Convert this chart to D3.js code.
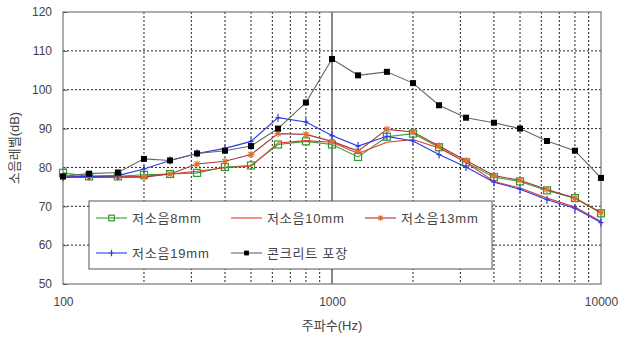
<!DOCTYPE html>
<html>
<head>
<meta charset="utf-8">
<script src="https://cdn.jsdelivr.net/npm/d3@7"></script>
<style>
  body { margin: 0; background: #fff; }
  svg { display: block; font-family: "Liberation Sans", "Noto Sans CJK KR", sans-serif; }
</style>
</head>
<body>
<svg id="chart" width="620" height="341"></svg>
<script>
// 1/3 octave band centre frequencies (Hz)
const freqs = [100, 125, 160, 200, 250, 315, 400, 500, 630, 800, 1000, 1250, 1600, 2000, 2500, 3150, 4000, 5000, 6300, 8000, 10000];

// Noise level (dB) per pavement type
const low8  = [78.6, 77.7, 77.7, 78.1, 78.3, 78.6, 80.1, 80.5, 85.9, 86.7, 85.9, 82.7, 87.9, 88.7, 85.2, 81.3, 77.5, 76.4, 74.1, 72.1, 68.2];
const low10 = [77.5, 77.5, 77.5, 77.7, 78.3, 79.0, 79.9, 80.3, 86.3, 86.9, 86.5, 83.6, 86.5, 87.2, 85.0, 81.3, 76.4, 74.7, 72.1, 69.8, 66.1];
const low13 = [77.5, 77.5, 77.5, 77.5, 78.3, 80.9, 81.6, 83.3, 88.7, 88.5, 86.7, 84.2, 89.8, 89.1, 85.5, 81.8, 77.9, 76.7, 74.3, 72.1, 68.4];
const low19 = [77.5, 77.7, 77.9, 79.6, 81.8, 83.6, 84.9, 86.7, 92.8, 91.7, 88.2, 85.5, 88.0, 86.8, 83.3, 80.1, 76.2, 74.4, 71.7, 69.5, 65.8];
const concrete = [77.7, 78.4, 78.7, 82.2, 81.8, 83.6, 84.3, 85.5, 90.0, 96.7, 107.9, 103.7, 104.6, 101.7, 96.0, 92.8, 91.5, 90.0, 86.8, 84.3, 77.3];

const seriesNames = ["저소음8mm", "저소음10mm", "저소음13mm", "저소음19mm", "콘크리트 포장"];
const yTicks = [50, 60, 70, 80, 90, 100, 110, 120];
const xTickLabels = [100, 1000, 10000];
const xTitle = "주파수(Hz)";
const yTitle = "소음레벨(dB)";

const series = [
  { name: seriesNames[0], values: low8,     line: "#3a9a3a", marker: "square-open", mcolor: "#2f9a2f" },
  { name: seriesNames[1], values: low10,    line: "#e03a2a", marker: "none",        mcolor: "#e03a2a" },
  { name: seriesNames[2], values: low13,    line: "#a8383a", marker: "star",        mcolor: "#e0702a" },
  { name: seriesNames[3], values: low19,    line: "#2a3ae8", marker: "plus",        mcolor: "#2a3ae8" },
  { name: seriesNames[4], values: concrete, line: "#666666", marker: "square",      mcolor: "#000000" }
];

const svg = d3.select("#chart");
const x = d3.scaleLog().domain([100, 10000]).range([63, 601]);
const y = d3.scaleLinear().domain([50, 120]).range([284, 12]);

// minor grid frequencies (2..9 within each decade)
const gridFreqs = [];
[100, 1000].forEach(d => { for (let k = 2; k <= 9; k++) gridFreqs.push(d * k); });

const grid = svg.append("g");
grid.selectAll("line.v").data(gridFreqs).join("line")
  .attr("x1", d => x(d)).attr("x2", d => x(d))
  .attr("y1", y(120)).attr("y2", y(50))
  .attr("stroke", "#222").attr("stroke-width", 1).attr("stroke-dasharray", "2,2");
grid.selectAll("line.h").data(yTicks.filter(v => v > 50 && v < 120)).join("line")
  .attr("x1", x(100)).attr("x2", x(10000))
  .attr("y1", d => y(d)).attr("y2", d => y(d))
  .attr("stroke", "#222").attr("stroke-width", 1).attr("stroke-dasharray", "2,2");
grid.append("line")
  .attr("x1", x(1000)).attr("x2", x(1000)).attr("y1", y(120)).attr("y2", y(50))
  .attr("stroke", "#111").attr("stroke-width", 1);

// frame
svg.append("rect")
  .attr("x", x(100)).attr("y", y(120))
  .attr("width", x(10000) - x(100)).attr("height", y(50) - y(120))
  .attr("fill", "none").attr("stroke", "#777").attr("stroke-width", 1.2);

// axes (ticks point into the plot)
const yAxis = d3.axisLeft(y).tickValues(yTicks).tickSize(-4).tickPadding(11);
const gy = svg.append("g").attr("transform", `translate(${x(100)},0)`).call(yAxis);
gy.select(".domain").remove();
gy.selectAll(".tick line").attr("stroke", "#555");
gy.selectAll("text").attr("font-size", 12).attr("fill", "#444");

const xAxis = d3.axisBottom(x).tickValues(xTickLabels).tickFormat(d3.format("d")).tickSize(0).tickPadding(13);
const gx = svg.append("g").attr("transform", `translate(0,${y(50)})`).call(xAxis);
gx.select(".domain").remove();
gx.selectAll("text").attr("font-size", 12).attr("fill", "#444");

svg.append("text").attr("x", x(1000)).attr("y", 330)
  .attr("text-anchor", "middle").attr("font-size", 13).attr("fill", "#444").text(xTitle);
svg.append("text").attr("transform", `translate(19,${(y(50) + y(120)) / 2}) rotate(-90)`)
  .attr("text-anchor", "middle").attr("font-size", 13).attr("fill", "#444").text(yTitle);

function drawMarker(g, type, color, k) {
  if (type === "square-open") {
    g.append("rect").attr("x", -3.5 * k).attr("y", -3.5 * k).attr("width", 7 * k).attr("height", 7 * k)
      .attr("fill", "none").attr("stroke", color).attr("stroke-width", 1.2);
  } else if (type === "square") {
    g.append("rect").attr("x", -3 * k).attr("y", -3 * k).attr("width", 6 * k).attr("height", 6 * k).attr("fill", color);
  } else if (type === "plus") {
    g.append("path").attr("d", `M${-2.5 * k},0H${2.5 * k}M0,${-4 * k}V${4 * k}`).attr("stroke", color).attr("stroke-width", 1.2);
  } else if (type === "star") {
    const r = 3.5 * k, q = 2.6 * k;
    g.append("path").attr("d", `M${-r},0H${r}M0,${-r}V${r}M${-q},${-q}L${q},${q}M${-q},${q}L${q},${-q}`)
      .attr("stroke", color).attr("stroke-width", 1.1);
  }
}

const line = d3.line().x((d, i) => x(freqs[i])).y(d => y(d));

series.forEach(s => {
  const g = svg.append("g");
  g.append("path").datum(s.values).attr("d", line)
    .attr("fill", "none").attr("stroke", s.line).attr("stroke-width", 1.1);
  if (s.marker !== "none") {
    g.selectAll("g.m").data(s.values).join("g")
      .attr("transform", (d, i) => `translate(${x(freqs[i])},${y(d)})`)
      .each(function () { drawMarker(d3.select(this), s.marker, s.mcolor, 1); });
  }
});

// legend
const legend = svg.append("g");
legend.append("rect").attr("x", 89).attr("y", 201).attr("width", 403).attr("height", 68)
  .attr("fill", "#fff").attr("stroke", "#555").attr("stroke-width", 1);
const legendPos = [[96, 218], [231, 218], [365, 218], [96, 253], [231, 253]];
series.forEach((s, i) => {
  const [lx, ly] = legendPos[i];
  const g = legend.append("g");
  g.append("line").attr("x1", lx).attr("x2", lx + 31).attr("y1", ly).attr("y2", ly)
    .attr("stroke", s.line).attr("stroke-width", 1.1);
  const m = g.append("g").attr("transform", `translate(${lx + 15.5},${ly})`);
  drawMarker(m, s.marker, s.mcolor, 0.8);
  g.append("text").attr("x", lx + 36).attr("y", ly + 5)
    .attr("font-size", 13).attr("letter-spacing", 0.8).attr("fill", "#444").text(s.name);
});
</script>
</body>
</html>
